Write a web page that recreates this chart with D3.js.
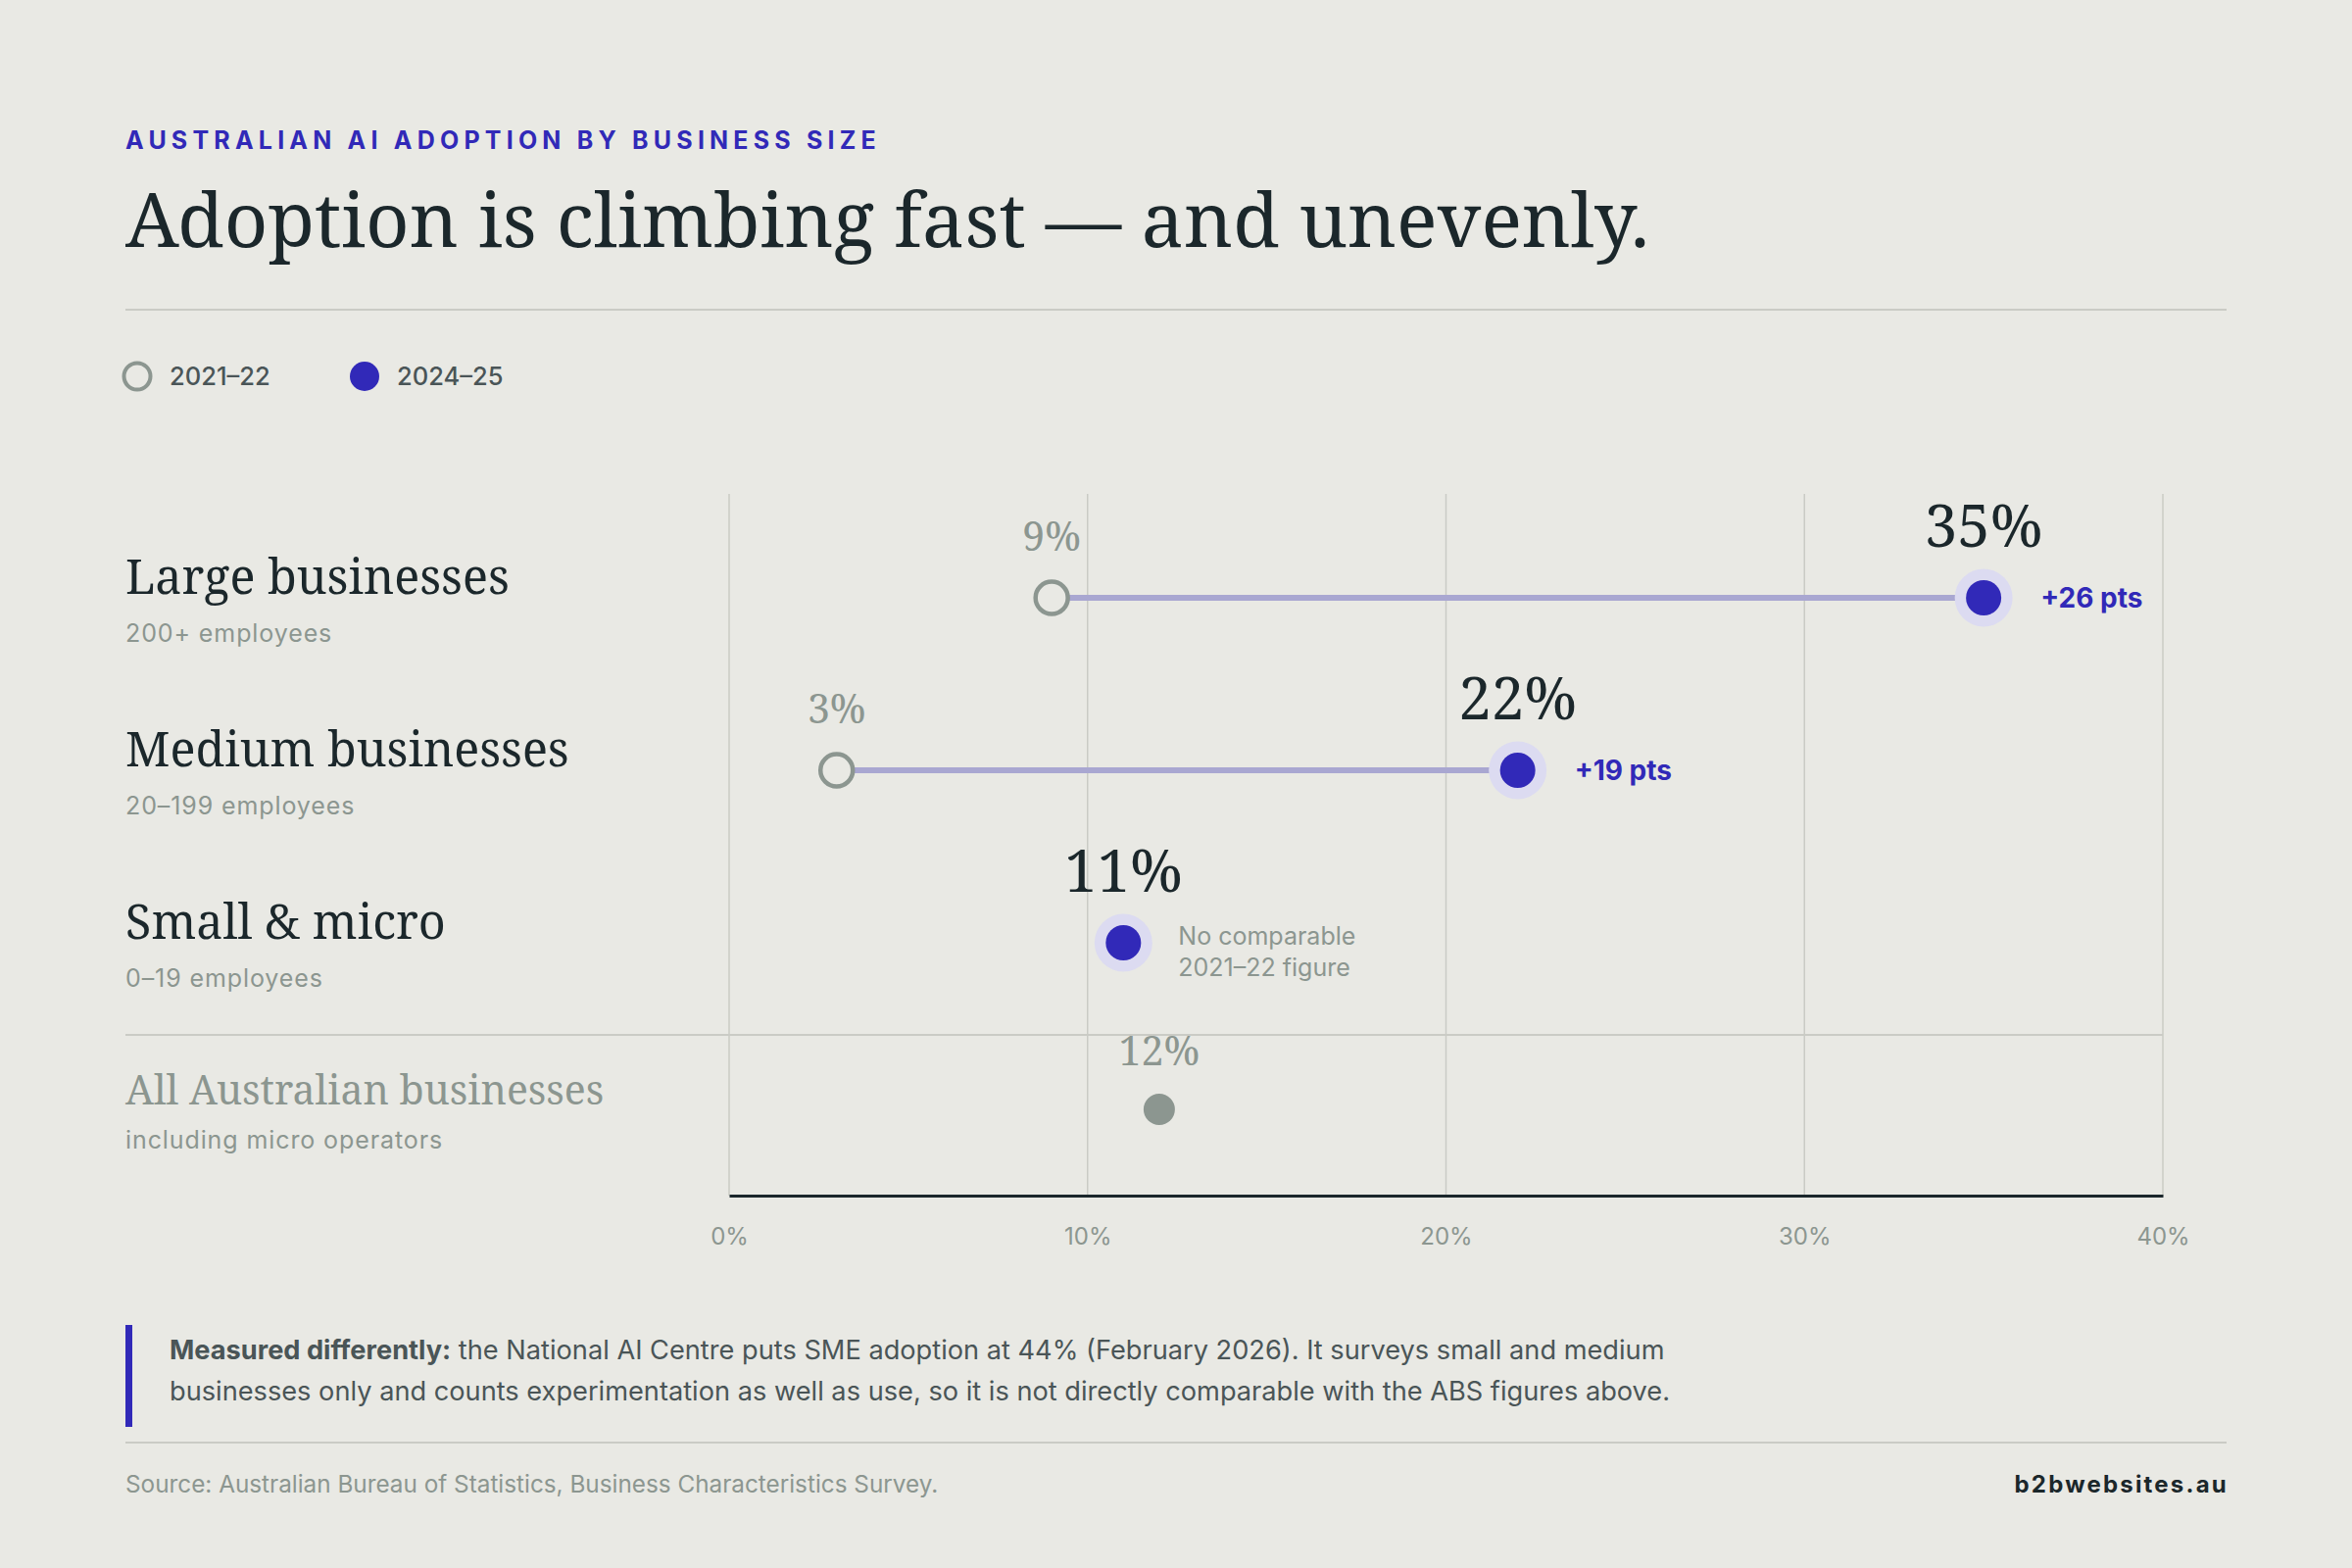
<!DOCTYPE html>
<html>
<head>
<meta charset="utf-8">
<script src="https://cdn.jsdelivr.net/npm/d3@7"></script>
<style>
  html, body { margin: 0; padding: 0; background: #e9e9e4; }
  svg { display: block; }
  .serif { font-family: "Noto Serif", "DejaVu Serif", serif; }
  .sans { font-family: Inter, "Noto Sans", sans-serif; }
</style>
</head>
<body>
<div id="chart"></div>
<script>
// ---- data ----
var categories = ["Large businesses", "Medium businesses", "Small & micro"];
var subLabels = ["200+ employees", "20–199 employees", "0–19 employees"];
var values2122 = [9, 3, null];
var values2425 = [35, 22, 11];

var allLabel = "All Australian businesses";
var allSubLabel = "including micro operators";
var allValue = [12];

var seriesNames = ["2021–22", "2024–25"];
var xTicks = [0, 10, 20, 30, 40];

// ---- setup ----
var W = 2400, H = 1600;
var blue = "#3129b8", halo = "#dcdbf1", grey = "#8c9690", dark = "#1b272b",
    link = "#a9a7d1", gridCol = "#cacbc5", bg = "#e9e9e4";

var svg = d3.select("#chart").append("svg")
    .attr("width", W)
    .attr("height", H);

svg.append("rect").attr("width", W).attr("height", H).attr("fill", bg);

// header
svg.append("text")
    .attr("class", "sans")
    .attr("x", 128).attr("y", 152)
    .attr("fill", blue)
    .style("font-size", "25px")
    .style("font-weight", 700)
    .style("letter-spacing", "5.2px")
    .text("AUSTRALIAN AI ADOPTION BY BUSINESS SIZE");

svg.append("text")
    .attr("class", "serif")
    .attr("x", 128).attr("y", 252)
    .attr("fill", dark)
    .style("font-size", "77.5px")
    .text("Adoption is climbing fast — and unevenly.");

svg.append("line")
    .attr("x1", 128).attr("x2", 2272)
    .attr("y1", 316).attr("y2", 316)
    .attr("stroke", gridCol).attr("stroke-width", 2);

// legend
var legend = svg.append("g").attr("transform", "translate(140,384)");
var legItem = legend.selectAll("g").data(seriesNames).enter().append("g")
    .attr("transform", function(d, i) { return "translate(" + (i * 232) + ",0)"; });
legItem.append("circle")
    .attr("r", function(d, i) { return i ? 15 : 13.5; })
    .attr("fill", function(d, i) { return i ? blue : "none"; })
    .attr("stroke", function(d, i) { return i ? "none" : grey; })
    .attr("stroke-width", 4);
legItem.append("text")
    .attr("class", "sans")
    .attr("x", 33).attr("y", 9)
    .attr("fill", "#4a5557")
    .style("font-size", "25.5px")
    .style("font-weight", 500)
    .text(function(d) { return d; });

// scales
var x = d3.scaleLinear().domain([0, 40]).range([744, 2207]);
var y = d3.scalePoint().domain(categories).range([610, 962]);
var sepY = y(categories[2]) + 94;
var allY = sepY + 76;
var chartTop = 504, chartBottom = 1220;

// grid
svg.append("g").selectAll("line").data(xTicks).enter().append("line")
    .attr("x1", function(d) { return x(d); })
    .attr("x2", function(d) { return x(d); })
    .attr("y1", chartTop).attr("y2", chartBottom)
    .attr("stroke", gridCol).attr("stroke-width", 1.5);

svg.append("line")
    .attr("x1", 128).attr("x2", x(40))
    .attr("y1", sepY).attr("y2", sepY)
    .attr("stroke", gridCol).attr("stroke-width", 2);

// axis
var axis = svg.append("g")
    .attr("transform", "translate(0," + chartBottom + ")")
    .call(d3.axisBottom(x).tickValues(xTicks)
      .tickFormat(function(d) { return d + "%"; })
      .tickSize(0).tickPadding(33));
axis.select(".domain").attr("stroke", dark).attr("stroke-width", 3);
axis.selectAll("text")
    .attr("class", "sans")
    .attr("fill", grey)
    .style("font-size", "24px");

// row labels
var rows = categories.map(function(c, i) {
  return {name: c, sub: subLabels[i], old: values2122[i], cur: values2425[i]};
});

var labelG = svg.append("g").selectAll("g").data(rows).enter().append("g");
labelG.append("text")
    .attr("class", "serif")
    .attr("x", 128).attr("y", function(d) { return y(d.name) - 4; })
    .attr("fill", dark)
    .style("font-size", "48.5px")
    .text(function(d) { return d.name; });
labelG.append("text")
    .attr("class", "sans")
    .attr("x", 128).attr("y", function(d) { return y(d.name) + 45; })
    .attr("fill", grey)
    .style("font-size", "25px")
    .style("letter-spacing", "0.9px")
    .text(function(d) { return d.sub; });

svg.append("text")
    .attr("class", "serif")
    .attr("x", 128).attr("y", allY - 5)
    .attr("fill", grey)
    .style("font-size", "41px")
    .text(allLabel);
svg.append("text")
    .attr("class", "sans")
    .attr("x", 128).attr("y", allY + 40)
    .attr("fill", grey)
    .style("font-size", "25px")
    .style("letter-spacing", "0.9px")
    .text(allSubLabel);

// connectors
var paired = rows.filter(function(d) { return d.old != null; });
svg.append("g").selectAll("line").data(paired).enter().append("line")
    .attr("x1", function(d) { return x(d.old); })
    .attr("x2", function(d) { return x(d.cur); })
    .attr("y1", function(d) { return y(d.name); })
    .attr("y2", function(d) { return y(d.name); })
    .attr("stroke", link).attr("stroke-width", 6);

// old dots
var oldG = svg.append("g").selectAll("g").data(paired).enter().append("g")
    .attr("transform", function(d) { return "translate(" + x(d.old) + "," + y(d.name) + ")"; });
oldG.append("circle")
    .attr("r", 16.5)
    .attr("fill", bg)
    .attr("stroke", grey).attr("stroke-width", 4.5);
oldG.append("text")
    .attr("class", "serif")
    .attr("y", -48)
    .attr("text-anchor", "middle")
    .attr("fill", grey)
    .style("font-size", "41px")
    .text(function(d) { return d.old + "%"; });

// new dots
var curG = svg.append("g").selectAll("g").data(rows).enter().append("g")
    .attr("transform", function(d) { return "translate(" + x(d.cur) + "," + y(d.name) + ")"; });
curG.append("circle").attr("r", 29.5).attr("fill", halo);
curG.append("circle").attr("r", 18).attr("fill", blue);
curG.append("text")
    .attr("class", "serif")
    .attr("y", -52)
    .attr("text-anchor", "middle")
    .attr("fill", dark)
    .style("font-size", "60px")
    .text(function(d) { return d.cur + "%"; });
curG.filter(function(d) { return d.old != null; })
  .append("text")
    .attr("class", "sans")
    .attr("x", 58).attr("y", 10)
    .attr("fill", blue)
    .style("font-size", "28px")
    .style("font-weight", 700)
    .text(function(d) { return "+" + (d.cur - d.old) + " pts"; });
curG.filter(function(d) { return d.old == null; })
  .append("text")
    .attr("class", "sans")
    .attr("x", 56)
    .attr("fill", grey)
    .style("font-size", "25px")
    .selectAll("tspan").data(["No comparable", "2021–22 figure"]).enter().append("tspan")
    .attr("x", 56)
    .attr("y", function(d, i) { return 2 + i * 32; })
    .text(function(d) { return d; });

// all businesses dot
var allG = svg.append("g").selectAll("g").data(allValue).enter().append("g")
    .attr("transform", function(d) { return "translate(" + x(d) + "," + allY + ")"; });
allG.append("circle").attr("r", 16).attr("fill", grey);
allG.append("text")
    .attr("class", "serif")
    .attr("y", -45)
    .attr("text-anchor", "middle")
    .attr("fill", grey)
    .style("font-size", "41px")
    .text(function(d) { return d + "%"; });

// note box
svg.append("rect")
    .attr("x", 128).attr("y", 1352)
    .attr("width", 7).attr("height", 104)
    .attr("fill", blue);
var note = svg.append("text")
    .attr("class", "sans")
    .attr("fill", "#4a5557")
    .style("font-size", "27.2px");
var l1 = note.append("tspan").attr("x", 173).attr("y", 1387);
l1.append("tspan").style("font-weight", 700).text("Measured differently:");
l1.append("tspan").text(" the National AI Centre puts SME adoption at 44% (February 2026). It surveys small and medium");
note.append("tspan").attr("x", 173).attr("y", 1429)
    .text("businesses only and counts experimentation as well as use, so it is not directly comparable with the ABS figures above.");

svg.append("line")
    .attr("x1", 128).attr("x2", 2272)
    .attr("y1", 1472).attr("y2", 1472)
    .attr("stroke", gridCol).attr("stroke-width", 2);

svg.append("text")
    .attr("class", "sans")
    .attr("x", 128).attr("y", 1523)
    .attr("fill", grey)
    .style("font-size", "24.3px")
    .text("Source: Australian Bureau of Statistics, Business Characteristics Survey.");

svg.append("text")
    .attr("class", "sans")
    .attr("x", 2274).attr("y", 1523)
    .attr("text-anchor", "end")
    .attr("fill", dark)
    .style("font-size", "24px")
    .style("font-weight", 700)
    .style("letter-spacing", "2.2px")
    .text("b2bwebsites.au");
</script>
</body>
</html>
